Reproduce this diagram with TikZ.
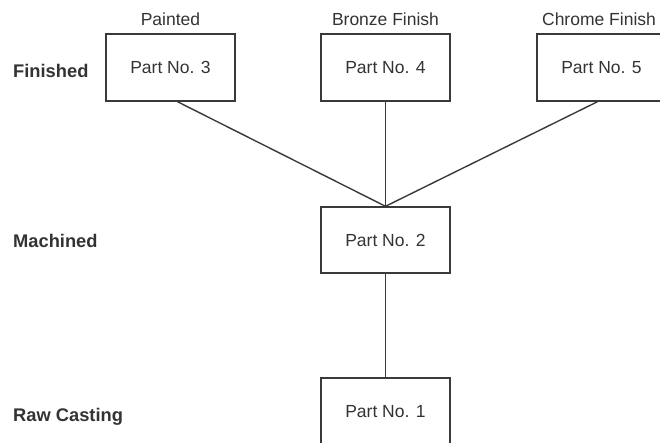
\documentclass[tikz,border=0pt]{standalone}
\usepackage{fontspec}
\setmainfont{Liberation Sans}
\definecolor{ink}{HTML}{333333}
\definecolor{edge}{HTML}{3A3A3A}
\begin{document}
\begin{tikzpicture}[x=1pt,y=-1pt,
  part/.style={draw=edge, line width=1.4pt, minimum width=129pt, minimum height=67pt,
    inner sep=0pt, text=ink, font=\fontsize{17.5}{20}\selectfont},
  finish/.style={anchor=base, text=ink, inner sep=0pt, font=\fontsize{17.5}{20}\selectfont},
  stage/.style={anchor=base west, text=ink, inner sep=0pt, font=\fontsize{18.3}{21}\selectfont\bfseries},
  link/.style={draw=edge, line width=1.4pt}]
  \useasboundingbox (0,0) rectangle (660,442);
  \clip (0,0) rectangle (660,442);

  % parts, finished row
  \node[part] (p3) at (170.5,67.5) {Part No. 3};
  \node[part] (p4) at (385.5,67.5) {Part No. 4};
  \node[part] (p5) at (601.5,67.5) {Part No. 5};
  % machined and raw parts
  \node[part, minimum height=66pt] (p2) at (385.5,240) {Part No. 2};
  \node[part] (p1) at (385.5,411.5) {Part No. 1};

  % finish names
  \node[finish] (fpaint) at (170.5,25) {Painted};
  \node[finish] (fbronze) at (385.5,25) {Bronze Finish};
  \node[finish] (fchrome) at (599,25) {Chrome Finish};

  % stage names
  \node[stage] (sfin) at (13,77) {Finished};
  \node[stage] (smach) at (13,247) {Machined};
  \node[stage] (sraw) at (13,421) {Raw Casting};

  % connectors
  \draw[link] ([xshift=7pt]p3.south) -- (p2.north);
  \draw[link] (p4.south) -- (p2.north);
  \draw[link] ([xshift=-4pt]p5.south) -- (p2.north);
  \draw[link] (p2.south) -- (p1.north);
\end{tikzpicture}
\end{document}
